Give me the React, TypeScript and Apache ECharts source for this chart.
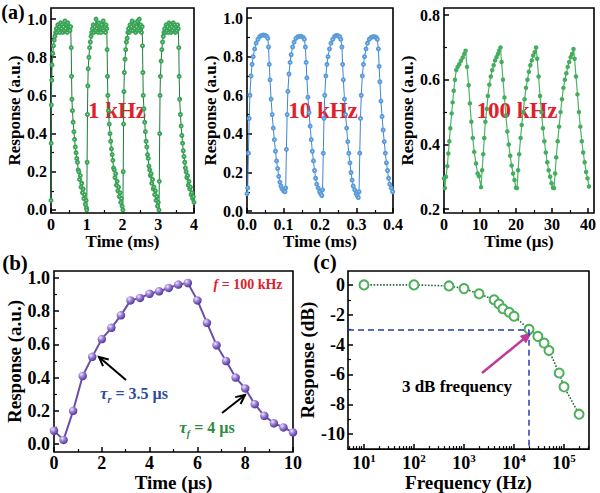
import React, { useEffect, useRef } from 'react';
import * as echarts from 'echarts';

// ---------- data ----------
// (a) 1 kHz : [time (ms), response]
const a1Data = [
  [0, 0.05], [0.005, 0.35], [0.01, 0.55], [0.02, 0.68], [0.03, 0.76], [0.05, 0.82], [0.07, 0.86], [0.09, 0.89], [0.11, 0.91], [0.13, 0.93],
  [0.15, 0.95], [0.17, 0.93], [0.19, 0.97], [0.21, 0.94], [0.23, 0.96], [0.25, 0.93], [0.27, 0.98], [0.29, 0.95], [0.31, 0.97], [0.33, 0.93],
  [0.35, 0.96], [0.37, 0.94], [0.39, 0.99], [0.41, 0.95], [0.43, 0.97], [0.45, 0.93], [0.47, 0.98], [0.49, 0.95], [0.51, 0.96], [0.53, 0.94],
  [0.55, 0.96], [0.565, 0.85], [0.575, 0.7], [0.585, 0.58], [0.6, 0.52], [0.62, 0.46], [0.64, 0.41], [0.66, 0.37], [0.68, 0.33], [0.7, 0.3],
  [0.72, 0.27], [0.74, 0.25], [0.76, 0.21], [0.78, 0.2], [0.8, 0.16], [0.82, 0.18], [0.84, 0.12], [0.86, 0.14], [0.88, 0.09], [0.9, 0.11],
  [0.92, 0.06], [0.94, 0.08], [0.96, 0.03], [0.98, 0.05], [0.995, 0.01],
  [1.0, 0.0], [1.01, 0.25], [1.02, 0.5], [1.03, 0.65], [1.04, 0.74], [1.06, 0.8], [1.08, 0.85], [1.1, 0.88], [1.12, 0.91], [1.14, 0.93],
  [1.16, 0.95], [1.18, 0.97], [1.2, 0.93], [1.22, 0.96], [1.24, 0.94], [1.26, 1.0], [1.28, 0.95], [1.3, 0.97], [1.32, 0.93], [1.34, 0.98],
  [1.36, 0.95], [1.38, 0.96], [1.4, 0.93], [1.42, 0.97], [1.44, 0.95], [1.46, 0.99], [1.48, 0.94], [1.5, 0.96], [1.52, 0.93], [1.54, 0.97],
  [1.56, 0.95], [1.57, 0.84], [1.58, 0.7], [1.59, 0.6], [1.61, 0.52], [1.63, 0.45], [1.65, 0.4], [1.67, 0.36], [1.69, 0.32], [1.71, 0.29],
  [1.73, 0.26], [1.75, 0.22], [1.77, 0.21], [1.79, 0.17], [1.81, 0.19], [1.83, 0.13], [1.85, 0.15], [1.87, 0.1], [1.89, 0.12], [1.91, 0.07],
  [1.93, 0.09], [1.95, 0.04], [1.97, 0.06], [1.99, 0.02], [2.01, 0.0],
  [2.02, 0.2], [2.03, 0.45], [2.04, 0.62], [2.05, 0.72], [2.07, 0.79], [2.09, 0.84], [2.11, 0.88], [2.13, 0.9], [2.15, 0.93], [2.17, 0.95],
  [2.19, 0.93], [2.21, 0.97], [2.23, 0.94], [2.25, 0.96], [2.27, 0.99], [2.29, 0.94], [2.31, 0.97], [2.33, 0.95], [2.35, 0.98], [2.37, 0.93],
  [2.39, 0.96], [2.41, 0.94], [2.43, 0.99], [2.45, 0.95], [2.47, 1.0], [2.49, 0.94], [2.51, 0.97], [2.53, 0.93], [2.55, 0.96], [2.56, 0.86],
  [2.57, 0.72], [2.58, 0.6], [2.6, 0.53], [2.62, 0.46], [2.64, 0.41], [2.66, 0.36], [2.68, 0.33], [2.7, 0.29], [2.72, 0.27], [2.74, 0.23],
  [2.76, 0.21], [2.78, 0.18], [2.8, 0.19], [2.82, 0.14], [2.84, 0.16], [2.86, 0.11], [2.88, 0.12], [2.9, 0.08], [2.92, 0.1], [2.94, 0.05],
  [2.96, 0.07], [2.98, 0.02], [3.0, 0.04], [3.02, 0.0],
  [3.03, 0.15], [3.04, 0.4], [3.05, 0.6], [3.06, 0.7], [3.08, 0.78], [3.1, 0.84], [3.12, 0.88], [3.14, 0.91], [3.16, 0.93], [3.18, 0.95],
  [3.2, 0.93], [3.22, 0.97], [3.24, 0.94], [3.26, 0.96], [3.28, 0.93], [3.3, 0.98], [3.32, 0.95], [3.34, 0.97], [3.36, 0.93], [3.38, 0.96],
  [3.4, 0.94], [3.42, 0.98], [3.44, 0.95], [3.46, 0.97], [3.48, 0.93], [3.5, 0.96], [3.52, 0.94], [3.54, 0.97], [3.56, 0.95], [3.575, 0.85],
  [3.585, 0.7], [3.6, 0.58], [3.62, 0.5], [3.64, 0.44], [3.66, 0.39], [3.68, 0.35], [3.7, 0.31], [3.72, 0.28], [3.74, 0.25], [3.76, 0.22],
  [3.78, 0.2], [3.8, 0.17], [3.82, 0.18], [3.84, 0.13], [3.86, 0.15], [3.88, 0.11], [3.9, 0.12], [3.92, 0.08], [3.94, 0.09], [3.96, 0.06],
  [3.98, 0.07], [4.0, 0.04],
];

// (a) 10 kHz : [time (ms), response]
const a2Data = [
  [0.0, 0.09], [0.002, 0.12], [0.004, 0.3], [0.006, 0.48], [0.008, 0.6], [0.011, 0.7], [0.014, 0.76], [0.017, 0.8], [0.021, 0.84], [0.025, 0.87],
  [0.03, 0.89], [0.035, 0.905], [0.04, 0.91], [0.045, 0.912], [0.05, 0.91], [0.054, 0.905], [0.057, 0.895], [0.059, 0.85], [0.061, 0.76], [0.063, 0.68],
  [0.066, 0.58], [0.069, 0.5], [0.072, 0.43], [0.075, 0.37], [0.078, 0.31], [0.081, 0.26], [0.084, 0.22], [0.087, 0.18], [0.09, 0.15], [0.093, 0.13],
  [0.096, 0.115], [0.1, 0.105], [0.104, 0.1],
  [0.106, 0.12], [0.108, 0.32], [0.11, 0.5], [0.112, 0.62], [0.115, 0.71], [0.118, 0.77], [0.121, 0.81], [0.125, 0.85], [0.129, 0.875], [0.134, 0.895],
  [0.139, 0.903], [0.144, 0.905], [0.149, 0.905], [0.154, 0.9], [0.157, 0.89], [0.16, 0.85], [0.162, 0.77], [0.164, 0.69], [0.167, 0.59], [0.17, 0.51],
  [0.173, 0.44], [0.176, 0.37], [0.179, 0.31], [0.182, 0.26], [0.185, 0.21], [0.188, 0.17], [0.191, 0.14], [0.195, 0.12], [0.199, 0.1], [0.202, 0.09],
  [0.205, 0.08],
  [0.207, 0.11], [0.209, 0.3], [0.211, 0.48], [0.213, 0.6], [0.216, 0.7], [0.219, 0.76], [0.222, 0.8], [0.226, 0.84], [0.23, 0.87], [0.235, 0.89],
  [0.24, 0.905], [0.245, 0.91], [0.25, 0.908], [0.254, 0.903], [0.257, 0.89], [0.26, 0.85], [0.262, 0.76], [0.264, 0.68], [0.267, 0.58], [0.27, 0.5],
  [0.273, 0.43], [0.276, 0.36], [0.279, 0.3], [0.282, 0.25], [0.285, 0.2], [0.288, 0.16], [0.291, 0.13], [0.295, 0.11], [0.299, 0.09], [0.302, 0.08],
  [0.305, 0.07],
  [0.307, 0.1], [0.309, 0.3], [0.311, 0.48], [0.313, 0.6], [0.316, 0.7], [0.319, 0.76], [0.322, 0.8], [0.326, 0.84], [0.33, 0.87], [0.335, 0.89],
  [0.34, 0.9], [0.345, 0.903], [0.35, 0.903], [0.354, 0.9], [0.357, 0.89], [0.36, 0.84], [0.362, 0.75], [0.364, 0.67], [0.367, 0.57], [0.37, 0.49],
  [0.373, 0.42], [0.376, 0.36], [0.379, 0.3], [0.382, 0.25], [0.385, 0.21], [0.388, 0.17], [0.391, 0.14], [0.395, 0.12], [0.399, 0.1],
];

// (a) 100 kHz : [time (µs), response]
const a3Data = [
  [0, 0.295], [0.25, 0.265], [0.55, 0.3], [0.93, 0.333], [1.2, 0.372], [1.48, 0.41], [1.76, 0.45], [2.13, 0.496], [2.4, 0.53], [2.7, 0.566],
  [3.05, 0.6], [3.4, 0.63], [3.8, 0.64], [4.26, 0.648], [4.7, 0.659], [5.2, 0.669], [5.65, 0.68], [6.0, 0.69], [6.4, 0.64], [6.85, 0.583],
  [7.2, 0.527], [7.6, 0.47], [8.0, 0.42], [8.4, 0.377], [8.9, 0.341], [9.35, 0.31], [9.7, 0.302], [10.3, 0.268],
  [10.6, 0.32], [10.9, 0.37], [11.2, 0.42], [11.5, 0.47], [11.9, 0.51], [12.2, 0.55], [12.6, 0.585], [13.0, 0.61], [13.4, 0.63], [13.8, 0.645],
  [14.2, 0.66], [14.6, 0.67], [15.0, 0.68], [15.3, 0.69], [15.7, 0.7], [16.0, 0.655], [16.4, 0.6], [16.8, 0.545], [17.2, 0.49], [17.6, 0.44],
  [18.0, 0.4], [18.4, 0.365], [18.8, 0.335], [19.2, 0.31], [19.6, 0.29], [20.0, 0.266], [20.3, 0.265],
  [20.6, 0.32], [20.9, 0.37], [21.3, 0.42], [21.6, 0.46], [22.0, 0.5], [22.4, 0.54], [22.8, 0.575], [23.2, 0.6], [23.6, 0.625], [24.0, 0.645],
  [24.4, 0.66], [24.8, 0.675], [25.2, 0.685], [25.6, 0.7], [25.9, 0.665], [26.3, 0.61], [26.7, 0.55], [27.1, 0.5], [27.5, 0.45], [27.9, 0.41],
  [28.3, 0.375], [28.7, 0.345], [29.1, 0.32], [29.5, 0.3], [29.9, 0.28], [30.3, 0.266], [30.6, 0.265],
  [30.9, 0.31], [31.2, 0.36], [31.6, 0.41], [32.0, 0.455], [32.4, 0.5], [32.8, 0.54], [33.2, 0.575], [33.6, 0.6], [34.0, 0.62], [34.4, 0.64],
  [34.8, 0.655], [35.2, 0.67], [35.6, 0.68], [36.0, 0.695], [36.3, 0.665], [36.7, 0.61], [37.1, 0.555], [37.5, 0.5], [37.9, 0.455], [38.3, 0.41],
  [38.7, 0.375], [39.1, 0.345], [39.5, 0.315], [39.9, 0.295], [40.3, 0.27],
];

// (b) single pulse at f = 100 kHz
const bTime = [0, 0.4, 0.8, 1.2, 1.6, 2.0, 2.4, 2.8, 3.2, 3.6, 4.0, 4.4, 4.8, 5.2, 5.6, 6.0, 6.4, 6.8, 7.2, 7.6, 8.0, 8.4, 8.8, 9.2, 9.6, 10.0];
const bResp = [0.08, 0.025, 0.2, 0.41, 0.525, 0.632, 0.7, 0.775, 0.865, 0.88, 0.905, 0.92, 0.94, 0.96, 0.97, 0.865, 0.73, 0.595, 0.5, 0.4, 0.335, 0.24, 0.17, 0.125, 0.1, 0.07];

// (c) frequency response
const cFreq = [10, 100, 500, 1000, 2000, 4000, 5000, 6000, 8000, 10000, 20000, 30000, 40000, 50000, 80000, 100000, 200000];
const cDb = [0, 0, -0.07, -0.25, -0.6, -1.0, -1.28, -1.6, -1.83, -2.1, -2.97, -3.45, -3.9, -4.4, -5.9, -6.83, -8.66];
const c3dB = { freq: 20000, db: -3 };

// ---------- tick values ----------
const a1XTicks = [0, 1, 2, 3, 4];
const a1XMinor = [0.5, 1.5, 2.5, 3.5];
const aYTicks = [0, 0.2, 0.4, 0.6, 0.8, 1.0];
const aYMinor = [0.1, 0.3, 0.5, 0.7, 0.9];
const a2XTicks = [0, 0.1, 0.2, 0.3, 0.4];
const a2XMinor = [0.05, 0.15, 0.25, 0.35];
const a3XTicks = [0, 10, 20, 30, 40];
const a3XMinor = [5, 15, 25, 35];
const a3YTicks = [0.2, 0.4, 0.6, 0.8];
const a3YMinor = [0.3, 0.5, 0.7];
const bXTicks = [0, 2, 4, 6, 8, 10];
const bXMinor = [1, 3, 5, 7, 9];
const bYTicks = [0, 0.2, 0.4, 0.6, 0.8, 1.0];
const bYMinor = [0.1, 0.3, 0.5, 0.7, 0.9];
const cXTicks = [10, 100, 1000, 10000, 100000];
const cXMinor = [5, 6, 7, 8, 9, 20, 30, 40, 50, 60, 70, 80, 90, 200, 300, 400, 500, 600, 700, 800, 900,
  2000, 3000, 4000, 5000, 6000, 7000, 8000, 9000, 20000, 30000, 40000, 50000, 60000, 70000, 80000, 90000, 200000, 300000];
const cYTicks = [0, -2, -4, -6, -8, -10];
const cYMinor = [-1, -3, -5, -7, -9];

const FONT = "'Liberation Serif', 'Times New Roman', serif";

function axisPair(p: any) {
  const common = {
    type: p.type || 'value', gridIndex: p.grid, min: p.min, max: p.max,
    splitLine: { show: false }, axisLine: { show: false, onZero: false },
  };
  const main = {
    ...common,
    position: p.pos,
    axisTick: { show: true, inside: true, length: 5, customValues: p.major, lineStyle: { color: '#000', width: 1.5 } },
    axisLabel: {
      show: true, customValues: p.major, formatter: p.fmt, color: '#000', fontFamily: FONT, fontWeight: 'bold',
      fontSize: p.size, margin: p.margin, rich: p.rich,
    },
    name: p.name, nameLocation: 'middle', nameGap: p.nameGap,
    nameTextStyle: { color: '#000', fontFamily: FONT, fontWeight: 'bold', fontSize: p.nameSize },
  };
  const minor = {
    ...common,
    position: p.pos,
    axisTick: { show: true, inside: true, length: 3, customValues: p.minor, lineStyle: { color: '#000', width: 1.2 } },
    axisLabel: { show: false },
  };
  return [main, minor];
}

const f1 = (v: number) => v.toFixed(1);
const f0 = (v: number) => String(v);
const supMap: Record<number, string> = { 10: '1', 100: '2', 1000: '3', 10000: '4', 100000: '5' };

function arrowV(x1: number, y1: number, x2: number, y2: number, len: number, ang: number) {
  const a = Math.atan2(y1 - y2, x1 - x2);
  return [
    [x2 + len * Math.cos(a + ang), y2 + len * Math.sin(a + ang)],
    [x2, y2],
    [x2 + len * Math.cos(a - ang), y2 + len * Math.sin(a - ang)],
  ];
}

export default function App() {
  const ref = useRef<HTMLDivElement>(null);
  useEffect(() => {
    const chart = echarts.init(ref.current!, null, { renderer: 'svg' });

    const grids = [
      { left: 51, top: 8, width: 143, height: 205 },
      { left: 247, top: 8, width: 146, height: 205 },
      { left: 444, top: 8, width: 150, height: 205 },
      { left: 54, top: 271, width: 239, height: 181 },
      { left: 348, top: 271, width: 241, height: 181 },
    ].map((g) => ({ ...g, show: true, borderColor: '#000', borderWidth: 1.6, backgroundColor: 'transparent' }));

    const aName = 17, aSize = 16, bName = 19, bSize = 18;
    const xAxes = [
      ...axisPair({ grid: 0, pos: 'bottom', min: 0, max: 4, major: a1XTicks, minor: a1XMinor, fmt: f0, size: aSize, margin: 3, name: 'Time (ms)', nameGap: 19, nameSize: aName }),
      ...axisPair({ grid: 1, pos: 'bottom', min: 0, max: 0.4, major: a2XTicks, minor: a2XMinor, fmt: f1, size: aSize, margin: 3, name: 'Time (ms)', nameGap: 19, nameSize: aName }),
      ...axisPair({ grid: 2, pos: 'bottom', min: 0, max: 41.7, major: a3XTicks, minor: a3XMinor, fmt: f0, size: aSize, margin: 3, name: 'Time (µs)', nameGap: 19, nameSize: aName }),
      ...axisPair({ grid: 3, pos: 'bottom', min: 0, max: 10, major: bXTicks, minor: bXMinor, fmt: f0, size: bSize, margin: 2, name: 'Time (µs)', nameGap: 17, nameSize: bName }),
      ...axisPair({
        grid: 4, pos: 'bottom', type: 'log', min: 4.79, max: 316000, major: cXTicks, minor: cXMinor,
        fmt: (v: number) => `{b|10}{s|${supMap[Math.round(v)] || ''}}`, size: bSize, margin: 3,
        rich: {
          b: { fontSize: 18, fontWeight: 'bold', fontFamily: FONT, color: '#000', lineHeight: 20, verticalAlign: 'bottom' },
          s: { fontSize: 11, fontWeight: 'bold', fontFamily: FONT, color: '#000', lineHeight: 11, verticalAlign: 'top' },
        },
        name: 'Frequency (Hz)', nameGap: 19, nameSize: bName,
      }),
    ];
    const yAxes = [
      ...axisPair({ grid: 0, pos: 'left', min: -0.016, max: 1.058, major: aYTicks, minor: aYMinor, fmt: f1, size: aSize, margin: 4, name: 'Response (a.u.)', nameGap: 25, nameSize: aName }),
      ...axisPair({ grid: 1, pos: 'left', min: -0.01, max: 1.052, major: aYTicks, minor: aYMinor, fmt: f1, size: aSize, margin: 4, name: 'Response (a.u.)', nameGap: 26, nameSize: aName }),
      ...axisPair({ grid: 2, pos: 'left', min: 0.188, max: 0.822, major: a3YTicks, minor: a3YMinor, fmt: f1, size: aSize, margin: 4, name: 'Response (a.u.)', nameGap: 24, nameSize: aName }),
      ...axisPair({ grid: 3, pos: 'left', min: -0.048, max: 1.042, major: bYTicks, minor: bYMinor, fmt: f1, size: bSize, margin: 4, name: 'Response (a.u.)', nameGap: 26, nameSize: bName }),
      ...axisPair({ grid: 4, pos: 'left', min: -11, max: 0.93, major: cYTicks, minor: cYMinor, fmt: f0, size: bSize, margin: 3, name: 'Response (dB)', nameGap: 20, nameSize: bName }),
    ];

    const sphere = new echarts.graphic.RadialGradient(0.35, 0.32, 0.7, [
      { offset: 0, color: '#efe6ff' },
      { offset: 0.45, color: '#9b7fd6' },
      { offset: 1, color: '#4f3494' },
    ]);

    const series: any[] = [
      {
        type: 'line', xAxisIndex: 0, yAxisIndex: 0, data: a1Data, symbol: 'emptyCircle', symbolSize: 3,
        lineStyle: { color: '#1d7a3a', width: 1 }, itemStyle: { color: '#3aa557', borderWidth: 0.8 },
      },
      {
        type: 'line', xAxisIndex: 2, yAxisIndex: 2, data: a2Data, symbol: 'emptyCircle', symbolSize: 3,
        lineStyle: { color: '#3f86d0', width: 1 }, itemStyle: { color: '#5a9bdb', borderWidth: 0.8 },
      },
      {
        type: 'line', xAxisIndex: 4, yAxisIndex: 4, data: a3Data, symbol: 'circle', symbolSize: 4.5,
        lineStyle: { color: '#4cb464', width: 1.2 }, itemStyle: { color: '#45ad5e' },
      },
      {
        type: 'line', xAxisIndex: 6, yAxisIndex: 6, data: bTime.map((t, i) => [t, bResp[i]]), symbol: 'circle', symbolSize: 8.5,
        lineStyle: { color: '#6b4eaa', width: 2 }, itemStyle: { color: sphere },
      },
      {
        type: 'line', xAxisIndex: 8, yAxisIndex: 8, data: cFreq.map((f, i) => [f, cDb[i]]), symbol: 'emptyCircle', symbolSize: 9,
        lineStyle: { color: '#2d6b3a', width: 1.6, type: 'dotted' }, itemStyle: { color: '#4caf5a', borderWidth: 1.1 },
        markLine: {
          silent: true, symbol: 'none', label: { show: false },
          lineStyle: { color: '#2a3bb0', width: 1.5, type: [6, 4] },
          data: [
            [{ coord: [4.79, c3dB.db] }, { coord: [c3dB.freq, c3dB.db] }],
            [{ coord: [c3dB.freq, c3dB.db] }, { coord: [c3dB.freq, -11] }],
          ],
        },
      },
    ];

    const txt = (text: string, x: number, y: number, size: number, fill: string, extra: any = {}) => ({
      type: 'text', x, y, silent: true,
      style: {
        text, fill, fontFamily: FONT, fontWeight: 'bold', fontSize: size,
        align: 'center', verticalAlign: 'middle', textAlign: 'center', textVerticalAlign: 'middle', ...extra,
      },
    });

    const blue = '#2c4b9c', green = '#2b8c3b', red = '#e0202a';
    const richTau = (fill: string) => ({
      t: { fontSize: 17, fontStyle: 'italic', fontWeight: 'bold', fontFamily: FONT, fill, lineHeight: 22, verticalAlign: 'middle' },
      s: { fontSize: 10, fontStyle: 'italic', fontWeight: 'bold', fontFamily: FONT, fill, lineHeight: 10, verticalAlign: 'bottom' },
      n: { fontSize: 16, fontWeight: 'bold', fontFamily: FONT, fill, lineHeight: 22, verticalAlign: 'middle' },
    });

    const arr1 = { x1: 126, y1: 380, x2: 99, y2: 357 };
    const arr2 = { x1: 222, y1: 413, x2: 245, y2: 395 };
    const arr3 = { x1: 482, y1: 373, x2: 531, y2: 333 };

    const graphic = [
      txt('(a)', 13, 12, 20, '#000'),
      txt('(b)', 15, 263, 21, '#000'),
      txt('(c)', 325, 262, 21, '#000'),
      txt('1 kHz', 117, 110, 23, red),
      txt('10 kHz', 323, 110, 23, red),
      txt('100 kHz', 517, 110, 23, red),
      txt('{i|f}{n| = 100 kHz}', 248, 284, 14, red, {
        rich: {
          i: { fontSize: 14, fontStyle: 'italic', fontWeight: 'bold', fontFamily: FONT, fill: red },
          n: { fontSize: 14, fontWeight: 'bold', fontFamily: FONT, fill: red },
        },
      }),
      txt('{t|τ}{s|r}{n| = 3.5 µs}', 134, 393, 16, blue, { rich: richTau(blue) }),
      txt('{t|τ}{s|f}{n| = 4 µs}', 207, 427, 16, green, { rich: richTau(green) }),
      txt('3 dB frequency', 457, 386, 17, '#000'),
      { type: 'line', silent: true, shape: arr1, style: { stroke: '#000', lineWidth: 2 } },
      { type: 'polyline', silent: true, shape: { points: arrowV(arr1.x1, arr1.y1, arr1.x2, arr1.y2, 10, 0.45) }, style: { stroke: '#000', lineWidth: 2, fill: 'none' } },
      { type: 'line', silent: true, shape: arr2, style: { stroke: '#000', lineWidth: 2 } },
      { type: 'polyline', silent: true, shape: { points: arrowV(arr2.x1, arr2.y1, arr2.x2, arr2.y2, 10, 0.45) }, style: { stroke: '#000', lineWidth: 2, fill: 'none' } },
      { type: 'line', silent: true, shape: arr3, style: { stroke: '#c03a9c', lineWidth: 2.5 } },
      { type: 'polygon', silent: true, shape: { points: arrowV(arr3.x1, arr3.y1, arr3.x2, arr3.y2, 11, 0.4) }, style: { fill: '#c03a9c', stroke: '#c03a9c', lineWidth: 1 } },
    ];

    chart.setOption({
      animation: false,
      backgroundColor: '#fff',
      grid: grids,
      xAxis: xAxes,
      yAxis: yAxes,
      series,
      graphic,
    });
    return () => chart.dispose();
  }, []);
  return <div ref={ref} style={{ position: 'fixed', left: 0, top: 0, width: 600, height: 493, background: '#fff' }} />;
}
